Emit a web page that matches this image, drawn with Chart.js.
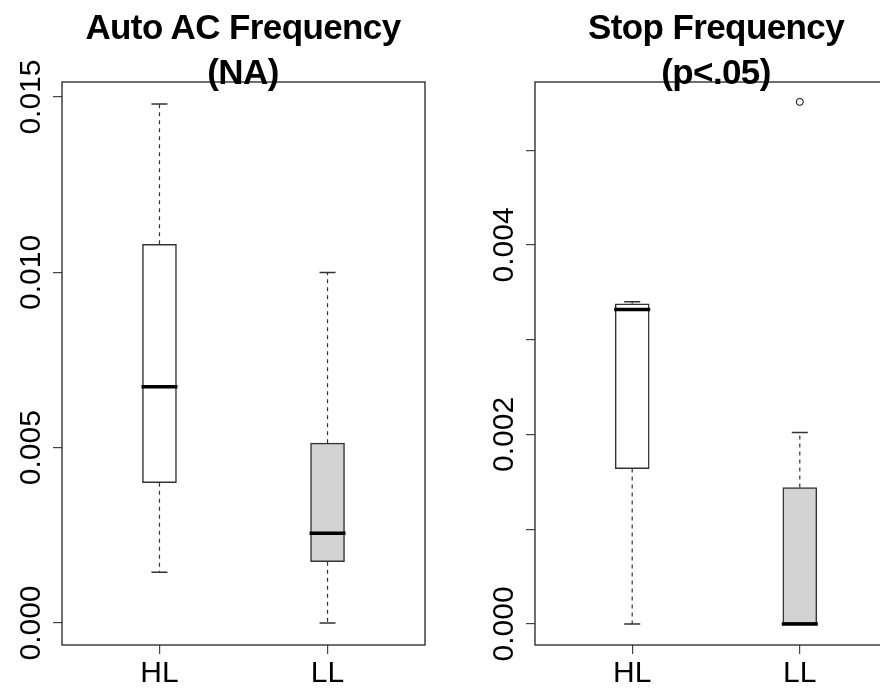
<!DOCTYPE html>
<html>
<head>
<meta charset="utf-8">
<script src="https://cdn.jsdelivr.net/npm/chart.js"></script>
<style>
  html, body { margin: 0; padding: 0; background: #fff; }
  body { width: 880px; height: 699px; overflow: hidden; position: relative; font-family: "Liberation Sans", Arial, sans-serif; }
  canvas { position: absolute; top: 0; }
  #c1 { left: 0; }
  #c2 { left: 440px; }
  .title { position: absolute; top: 4px; width: 400px; text-align: center; font-weight: bold; font-size: 35px; line-height: 45px; letter-spacing: -0.6px; color: #000; z-index: 2; }
</style>
</head>
<body>
<div class="title" id="t1" style="left:43px">Auto AC Frequency<br>(NA)</div>
<div class="title" id="t2" style="left:516px">Stop Frequency<br>(p&lt;.05)</div>
<canvas id="c1" width="440" height="699"></canvas>
<canvas id="c2" width="480" height="699"></canvas>
<script>
var groups = ["HL", "LL"];

// Auto AC Frequency
var acMin = [0.00145, 0.0000];
var acQ1 = [0.0040, 0.00175];
var acMedian = [0.00674, 0.00256];
var acQ3 = [0.0108, 0.00513];
var acMax = [0.0148, 0.0100];
var acOutliers = [[], []];
var acTicks = [0, 0.005, 0.010, 0.015];
var acTickLabels = ["0.000", "0.005", "0.010", "0.015"];

// Stop Frequency
var stopMin = [0.0000, 0.0000];
var stopQ1 = [0.00164, 0.0000];
var stopMedian = [0.00332, 0.0000];
var stopQ3 = [0.00338, 0.00144];
var stopMax = [0.00340, 0.00202];
var stopOutliers = [[], [0.00551]];
var stopTicks = [0, 0.001, 0.002, 0.003, 0.004, 0.005];
var stopTickLabels = ["0.000", "", "0.002", "", "0.004", ""];

var boxFill = ["#ffffff", "#d3d3d3"];

// whiskers, caps, medians, frame and rotated y labels
var boxExtras = {
	id: "boxExtras",
	afterDatasetsDraw: function(chart) {
		var s = chart.options.plugins.boxExtras;
		var ctx = chart.ctx;
		var xs = chart.scales.x, ys = chart.scales.y;
		ctx.save();
		for (var i = 0; i < groups.length; i++) {
			var x = xs.getPixelForValue(i + 1);
			ctx.strokeStyle = "#333";
			ctx.lineWidth = 1.2;
			ctx.setLineDash([4, 4]);
			ctx.beginPath();
			ctx.moveTo(x, ys.getPixelForValue(s.q3[i]));
			ctx.lineTo(x, ys.getPixelForValue(s.max[i]));
			ctx.moveTo(x, ys.getPixelForValue(s.q1[i]));
			ctx.lineTo(x, ys.getPixelForValue(s.min[i]));
			ctx.stroke();
			ctx.setLineDash([]);
			ctx.lineWidth = 1.5;
			ctx.beginPath();
			ctx.moveTo(x - 8, ys.getPixelForValue(s.max[i]));
			ctx.lineTo(x + 8, ys.getPixelForValue(s.max[i]));
			ctx.moveTo(x - 8, ys.getPixelForValue(s.min[i]));
			ctx.lineTo(x + 8, ys.getPixelForValue(s.min[i]));
			ctx.stroke();
			ctx.strokeStyle = "#000";
			ctx.lineWidth = 3.5;
			ctx.beginPath();
			ctx.moveTo(x - 18, ys.getPixelForValue(s.median[i]));
			ctx.lineTo(x + 18, ys.getPixelForValue(s.median[i]));
			ctx.stroke();
		}
		ctx.restore();
	},
	afterDraw: function(chart) {
		var s = chart.options.plugins.boxExtras;
		var ctx = chart.ctx;
		var a = chart.chartArea;
		var ys = chart.scales.y;
		ctx.save();
		ctx.strokeStyle = "#222";
		ctx.lineWidth = 1.3;
		ctx.strokeRect(a.left, a.top, a.right - a.left, a.bottom - a.top);
		ctx.fillStyle = "#000";
		ctx.font = "30px 'Liberation Sans', Arial, sans-serif";
		ctx.textAlign = "center";
		ctx.textBaseline = "middle";
		for (var i = 0; i < s.ticks.length; i++) {
			if (!s.labels[i]) continue;
			ctx.save();
			ctx.translate(a.left - 30, ys.getPixelForValue(s.ticks[i]));
			ctx.rotate(-Math.PI / 2);
			ctx.fillText(s.labels[i], 0, 0);
			ctx.restore();
		}
		ctx.restore();
	}
};

function makeChart(id, st, yMin, yMax, axisW, padRight) {
	var outPts = [];
	for (var i = 0; i < groups.length; i++) {
		for (var j = 0; j < st.out[i].length; j++) outPts.push({x: i + 1, y: st.out[i][j]});
	}
	return new Chart(document.getElementById(id), {
		type: "bar",
		data: {
			datasets: [{
				data: groups.map(function(g, i) { return {x: i + 1, y: [st.q1[i], st.q3[i]]}; }),
				backgroundColor: boxFill,
				borderColor: "#333",
				borderWidth: 1.5,
				borderSkipped: false,
				barThickness: 34
			}, {
				type: "scatter",
				data: outPts,
				pointRadius: 3.5,
				pointBackgroundColor: "#fff",
				pointBorderColor: "#000",
				pointBorderWidth: 1
			}]
		},
		options: {
			responsive: false,
			animation: false,
			layout: { padding: { top: 82, right: padRight, left: 0, bottom: 0 } },
			plugins: {
				legend: { display: false },
				tooltip: { enabled: false },
				boxExtras: st
			},
			scales: {
				x: {
					type: "linear",
					min: 0.42,
					max: 2.58,
					offset: false,
					afterBuildTicks: function(s) { s.ticks = groups.map(function(g, i) { return {value: i + 1}; }); },
					afterFit: function(s) { s.height = 54; },
					ticks: {
						autoSkip: false, maxRotation: 0, padding: 2, color: "#000",
						font: { family: "'Liberation Sans', Arial, sans-serif", size: 30 },
						callback: function(v, i) { return groups[i]; }
					},
					grid: { offset: false, drawOnChartArea: false, drawTicks: true, tickLength: 9, color: "#444", lineWidth: 1.2 },
					border: { display: false }
				},
				y: {
					min: yMin,
					max: yMax,
					afterBuildTicks: function(s) { s.ticks = st.ticks.map(function(v) { return {value: v}; }); },
					afterFit: function(s) { s.width = axisW; },
					ticks: { display: false },
					grid: { drawOnChartArea: false, drawTicks: true, tickLength: 9, color: "#444", lineWidth: 1.2 },
					border: { display: false }
				}
			}
		},
		plugins: [boxExtras]
	});
}

makeChart("c1", {min: acMin, q1: acQ1, median: acMedian, q3: acQ3, max: acMax, out: acOutliers, ticks: acTicks, labels: acTickLabels}, -0.000627, 0.01543, 62, 15);
makeChart("c2", {min: stopMin, q1: stopQ1, median: stopMedian, q3: stopQ3, max: stopMax, out: stopOutliers, ticks: stopTicks, labels: stopTickLabels}, -0.000222, 0.00572, 95, 23);
</script>
</body>
</html>
